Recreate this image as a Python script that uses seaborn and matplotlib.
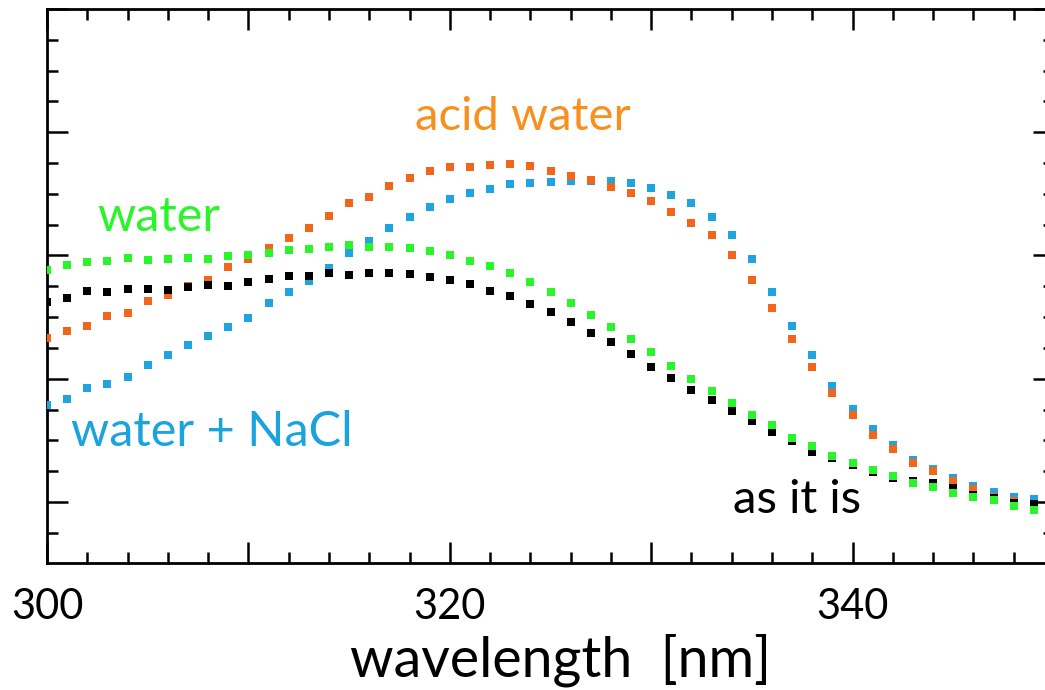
import numpy as np
import pandas as pd
import matplotlib
matplotlib.use("Agg")
import matplotlib.pyplot as plt
from matplotlib.ticker import MultipleLocator
import seaborn as sns

wavelength = list(range(300, 350))

as_it_is = [2.623, 2.655, 2.714, 2.704, 2.728, 2.731, 2.718, 2.744, 2.761, 2.755,
            2.787, 2.813, 2.831, 2.835, 2.854, 2.842, 2.860, 2.860, 2.846, 2.823,
            2.801, 2.769, 2.712, 2.674, 2.606, 2.539, 2.460, 2.369, 2.297, 2.203,
            2.099, 2.006, 1.911, 1.828, 1.740, 1.657, 1.568, 1.492, 1.408, 1.355,
            1.300, 1.243, 1.192, 1.170, 1.154, 1.114, 1.057, 1.030, 0.992, 0.980]

water = [2.882, 2.923, 2.947, 2.955, 2.977, 2.963, 2.969, 2.977, 2.969, 2.992,
         3.004, 3.018, 3.045, 3.050, 3.067, 3.083, 3.067, 3.067, 3.058, 3.037,
         3.002, 2.953, 2.915, 2.856, 2.787, 2.706, 2.612, 2.517, 2.420, 2.320,
         2.215, 2.103, 2.000, 1.903, 1.801, 1.703, 1.621, 1.523, 1.454, 1.377,
         1.319, 1.260, 1.211, 1.158, 1.119, 1.073, 1.041, 1.019, 0.965, 0.938]

acid_water = [2.328, 2.391, 2.432, 2.507, 2.535, 2.632, 2.681, 2.750, 2.803, 2.909,
              2.973, 3.063, 3.140, 3.221, 3.320, 3.428, 3.477, 3.566, 3.625, 3.688,
              3.716, 3.721, 3.734, 3.740, 3.726, 3.688, 3.649, 3.613, 3.558, 3.505,
              3.445, 3.355, 3.266, 3.166, 3.002, 2.804, 2.578, 2.320, 2.099, 1.882,
              1.708, 1.546, 1.430, 1.320, 1.250, 1.170, 1.103, 1.043, 1.008, 0.965]

water_nacl = [1.791, 1.838, 1.927, 1.957, 2.016, 2.114, 2.190, 2.271, 2.343, 2.421,
              2.495, 2.616, 2.706, 2.796, 2.895, 3.023, 3.118, 3.221, 3.314, 3.394,
              3.456, 3.505, 3.542, 3.578, 3.591, 3.599, 3.607, 3.605, 3.607, 3.586,
              3.550, 3.491, 3.424, 3.315, 3.166, 2.969, 2.700, 2.428, 2.191, 1.945,
              1.753, 1.591, 1.462, 1.343, 1.264, 1.196, 1.127, 1.084, 1.043, 1.022]

xtick_labels = [300, 320, 340]
series_names = ["water + NaCl", "acid water", "as it is", "water"]
marker_colors = {"water + NaCl": "#1fa4e0", "acid water": "#f2661c",
                 "as it is": "#000000", "water": "#2af52a"}
label_colors = {"water + NaCl": "#1aa3dd", "acid water": "#f7901e",
                "as it is": "#000000", "water": "#2af52a"}

df = pd.concat([
    pd.DataFrame({"wavelength": wavelength, "value": vals, "sample": name})
    for name, vals in zip(series_names, [water_nacl, acid_water, as_it_is, water])
], ignore_index=True)

sns.set_theme(style="ticks")
plt.rcParams["font.family"] = ["Lato", "DejaVu Sans"]

fig = plt.figure(figsize=(10.45, 6.9), dpi=100)
ax = fig.add_axes([47 / 1045, (690 - 563) / 690, (1054 - 47) / 1045, (563 - 9) / 690])

for name in series_names:
    sub = df[df["sample"] == name]
    sns.scatterplot(data=sub, x="wavelength", y="value", color=marker_colors[name],
                    marker="s", s=34, linewidth=0, ax=ax, legend=False, zorder=3)

ax.set_xlim(300, 350)
ax.set_ylim(0.505, 5.0)
ax.xaxis.set_major_locator(MultipleLocator(10))
ax.xaxis.set_minor_locator(MultipleLocator(2))
ax.yaxis.set_major_locator(MultipleLocator(1))
ax.yaxis.set_minor_locator(MultipleLocator(0.25))
ax.set_xticklabels([])
ax.set_yticklabels([])
ax.tick_params(which="both", direction="in", top=True, right=True, color="black", width=1.8)
ax.tick_params(which="major", length=15)
ax.tick_params(which="minor", length=8)
for sp in ax.spines.values():
    sp.set_linewidth(2)
    sp.set_color("black")
ax.set_xlabel("")
ax.set_ylabel("")

for t in xtick_labels:
    ax.text(t, -0.046, str(t), transform=ax.get_xaxis_transform(), ha="center", va="top",
            fontsize=30, color="black")
fig.text(560 / 1045, 1 - 660 / 690, "wavelength  [nm]", ha="center", va="center",
         fontsize=40, color="black")

fig.text(523 / 1045, 1 - 117 / 690, "acid water", ha="center", va="center",
         fontsize=34, color=label_colors["acid water"])
fig.text(159 / 1045, 1 - 217 / 690, "water", ha="center", va="center",
         fontsize=35, color=label_colors["water"])
fig.text(212 / 1045, 1 - 432 / 690, "water + NaCl", ha="center", va="center",
         fontsize=35, color=label_colors["water + NaCl"])
fig.text(797 / 1045, 1 - 500 / 690, "as it is", ha="center", va="center",
         fontsize=34, color=label_colors["as it is"])

fig.savefig("out.png", dpi=100)
